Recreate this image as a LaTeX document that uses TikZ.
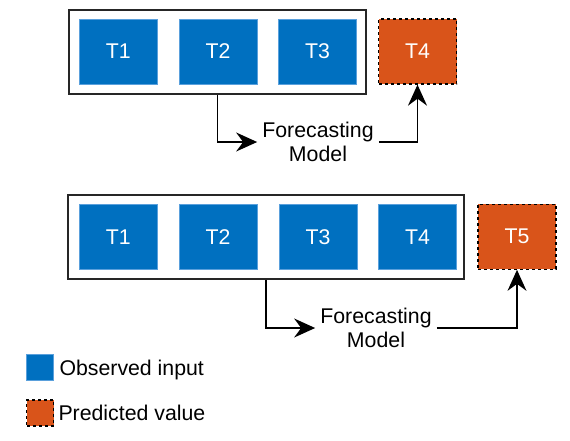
\documentclass[tikz,border=0pt]{standalone}
\usepackage{fontspec}
\setmainfont{Liberation Sans}
\usetikzlibrary{arrows.meta}
\definecolor{obsblue}{RGB}{0,112,192}
\definecolor{obsedge}{RGB}{90,160,220}
\definecolor{predorange}{RGB}{217,84,26}
\begin{document}
\begin{tikzpicture}[x=1pt,y=-1pt,
  lbl/.style={font=\fontsize{21.3}{24}\selectfont},
  obs/.style={rectangle, fill=obsblue, draw=obsedge, line width=0.8pt, minimum width=78pt, minimum height=65pt, inner sep=0pt, text=white, lbl},
  pred/.style={rectangle, fill=predorange, draw=black, dash pattern=on 3pt off 3pt, line width=1.3pt, minimum width=78pt, minimum height=65pt, inner sep=0pt, text=white, lbl},
  grp/.style={rectangle, draw=black!85, line width=1.6pt, inner sep=0pt, minimum height=84pt},
  arr/.style={line width=1.5pt, arrows={-Stealth[length=21pt, width=19pt, inset=7pt]}},
  model/.style={lbl, align=center, inner sep=5pt},
  legtext/.style={lbl, anchor=base west, inner sep=0pt}]
\useasboundingbox (0,0) rectangle (570,440);

% top row
\node[grp, minimum width=297pt] (g1) at (217.5,52) {};
\node[obs] (a1) at (118.3,51.5) {T1};
\node[obs] (a2) at (218,51.5) {T2};
\node[obs] (a3) at (317.5,51.5) {T3};
\node[pred] (a4) at (417.5,51.5) {T4};
\node[model] (m1) at (318,142) {Forecasting\\Model};
\draw[arr] (g1.south) |- (m1.west);
\draw[arr] (m1.east) -| (a4.south);

% bottom row
\node[grp, minimum width=396pt] (g2) at (266,237) {};
\node[obs] (b1) at (118.3,236.7) {T1};
\node[obs] (b2) at (218,236.7) {T2};
\node[obs] (b3) at (318,236.7) {T3};
\node[obs] (b4) at (417.5,236.7) {T4};
\node[pred] (b5) at (517,236.7) {T5};
\node[model] (m2) at (376,328) {Forecasting\\Model};
\draw[arr] (g2.south) |- (m2.west);
\draw[arr] (m2.east) -| (b5.south);

% legend
\node[obs, minimum width=27pt, minimum height=26pt] (lo) at (40.3,367) {};
\node[legtext] (lot) at (59.3,375) {Observed input};
\node[pred, minimum width=27pt, minimum height=26pt] (lp) at (40.3,413) {};
\node[legtext] (lpt) at (58.3,420) {Predicted value};
\end{tikzpicture}
\end{document}
